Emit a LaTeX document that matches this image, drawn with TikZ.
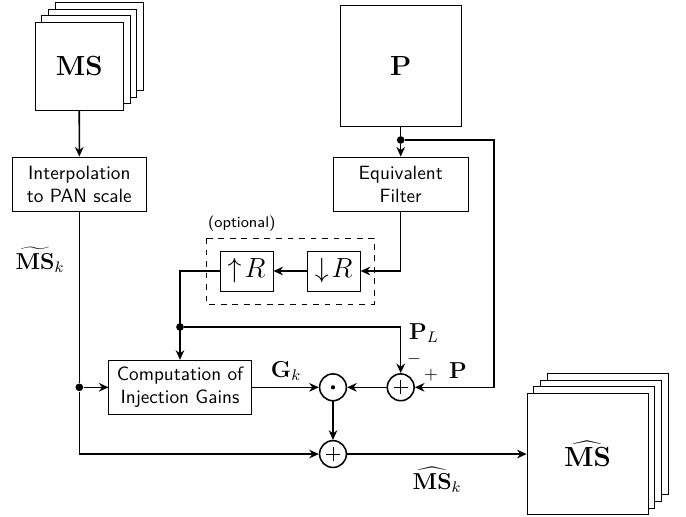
\documentclass[tikz,border=0pt]{standalone}
\usetikzlibrary{arrows.meta,calc}

\tikzset{
  block/.style={draw,fill=white,font=\sffamily,align=center,minimum width=2.46cm,minimum height=0.99cm,inner sep=2pt},
  img/.style={draw,fill=white,minimum size=#1,inner sep=0pt,font=\Large},
  rsamp/.style={draw,minimum width=0.97cm,minimum height=0.73cm,inner sep=0pt,font=\Large},
  sumnode/.style={draw,thick,circle,minimum size=0.49cm,inner sep=0pt,
    path picture={\draw[thin] ([xshift=-3.6pt]path picture bounding box.center) -- ([xshift=3.6pt]path picture bounding box.center)
      ([yshift=-3.6pt]path picture bounding box.center) -- ([yshift=3.6pt]path picture bounding box.center);}},
  prodnode/.style={draw,thick,circle,minimum size=0.49cm,inner sep=0pt,
    path picture={\fill (path picture bounding box.center) circle (1.1pt);}},
  link/.style={thick,-{Stealth[length=5pt,width=4.5pt]}},
  junction/.style={circle,fill,inner sep=0pt,minimum size=4pt}
}

\begin{document}
\begin{tikzpicture}
  \useasboundingbox (0,0) rectangle (12.54,-9.433);
  % image stacks
  \foreach \i in {3,2,1} \draw[fill=white] ($(1.448,-1.212)+(-0.8045,-0.8045)+(\i*0.122,\i*0.122)$) rectangle ++(1.609,1.609);
  \node[img=1.609cm] (ms) at (1.448,-1.212) {$\mathbf{MS}$};
  \node[img=2.212cm] (p) at (7.325,-1.212) {$\mathbf{P}$};
  \foreach \i in {3,2,1} \draw[fill=white] ($(10.74,-8.3)+(-1.106,-1.106)+(\i*0.122,\i*0.122)$) rectangle ++(2.212,2.212);
  \node[img=2.212cm] (mshat) at (10.74,-8.3) {$\widehat{\mathbf{MS}}$};

  % blocks
  \node[block] (interp) at (1.45,-3.364) {Interpolation\\to PAN scale};
  \node[block] (eqf) at (7.325,-3.364) {Equivalent\\Filter};
  \node[block,minimum width=2.6cm] (comp) at (3.29,-7.08) {Computation of\\Injection Gains};
  \node[rsamp] (up) at (4.506,-4.954) {$\uparrow\! R$};
  \node[rsamp] (down) at (6.1,-4.954) {$\downarrow\! R$};
  \draw[dashed] (3.766,-4.351) rectangle (6.837,-5.557);
  \node[font=\sffamily\footnotesize] (opt) at (4.42,-4.095) {(optional)};

  % operators
  \node[prodnode] (prod) at (6.087,-7.08) {};
  \node[sumnode] (sum1) at (7.325,-7.08) {};
  \node[sumnode] (sum2) at (6.087,-8.3) {};

  % junctions
  \node[junction] (j1) at (7.325,-2.559) {};
  \node[junction] (j2) at (3.29,-5.978) {};
  \node[junction] (j3) at (1.45,-7.08) {};
  \coordinate (pturn) at (9.03,-2.559);

  % connections
  \draw[link] (ms) -- (interp);
  \draw[thick] (p.south) -- (j1);
  \draw[link] (j1) -- (eqf.north);
  \draw[link] (j1) -- (pturn) |- (sum1.east);
  \draw[link] (eqf.south) |- (down.east);
  \draw[link] (down) -- (up);
  \draw[link] (up.west) -| (comp.north);
  \draw[link] (j2) -| (sum1.north);
  \draw[thick] (interp.south) -- (j3);
  \draw[link] (j3) -- (comp.west);
  \draw[link] (j3) |- (sum2.west);
  \draw[link] (comp) -- (prod);
  \draw[link] (sum1) -- (prod);
  \draw[link] (prod) -- (sum2);
  \draw[link] (sum2) -- (mshat);

  % labels
  \node[font=\large] (lmst) at (0.731,-4.753) {$\widetilde{\mathbf{MS}}_k$};
  \node[font=\large] (lg) at (5.228,-6.78) {$\mathbf{G}_k$};
  \node[font=\large] (lpl) at (7.75,-6.09) {$\mathbf{P}_L$};
  \node[font=\small] (lminus) at (7.568,-6.563) {$-$};
  \node[font=\small] (lplus) at (7.88,-6.855) {$+$};
  \node[font=\large] (lp) at (8.372,-6.78) {$\mathbf{P}$};
  \node[font=\large] (lmsh) at (7.99,-8.775) {$\widehat{\mathbf{MS}}_k$};
\end{tikzpicture}
\end{document}
